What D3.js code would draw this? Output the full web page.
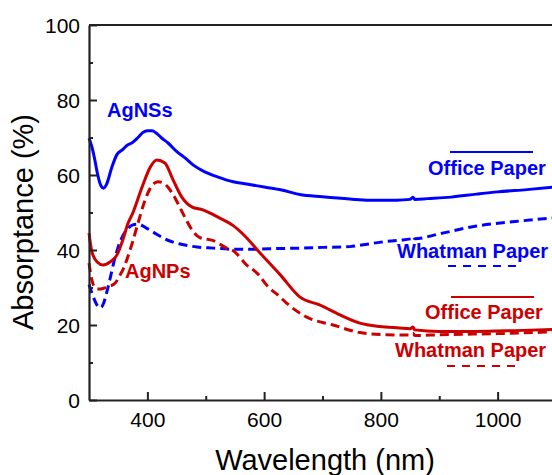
<!DOCTYPE html>
<html>
<head>
<meta charset="utf-8">
<script src="https://cdn.jsdelivr.net/npm/d3@7"></script>
<style>
  html, body { margin: 0; padding: 0; background: #fff; }
  svg { display: block; font-family: "Liberation Sans", Arial, sans-serif; }
</style>
</head>
<body>
<svg id="chart" width="552" height="475"></svg>
<script>
// ---- Data ----
const nsOfficeW = [300,305,310,315,320,325,330,339,348,357,366,374,384,392,400,408,415,425,435,450,465,480,495,520,547,570,600,630,661,700,747,780,827,850,855,858,880,920,964,1000,1050,1100];
const nsOfficeV = [69.8,67.5,64,60,57.3,56.5,57.5,62,65.5,66.7,68,68.6,70,71.3,71.8,71.8,71.2,69.8,68.6,66.3,64.5,62.5,61.1,59.5,58.2,57.6,56.8,56,54.8,54.2,53.6,53.3,53.3,53.5,54.1,53.5,53.7,54.1,54.9,55.5,56.1,56.8];

const nsWhatW = [300,305,310,315,320,325,330,336,343,350,358,366,375,382,390,400,416,435,456,485,513,547,580,627,661,700,747,770,800,830,852,855,858,900,964,1030,1100];
const nsWhatV = [30.8,28.5,26.5,25,24.6,25.8,28.5,32.3,37,40.8,43.8,45.6,46.7,46.9,46.6,45.7,44.2,42.6,41.6,40.8,40.5,40.2,40.2,40.4,40.5,40.7,40.9,41.4,42.1,42.6,43,43.6,43,44.3,46.4,47.6,48.6];

const npOfficeW = [300,305,314,324,336,348,358,367,374,391,405,416,430,444,459,476,495,524,547,564,593,627,661,696,730,764,798,832,850,855,858,900,960,1030,1100];
const npOfficeV = [44.5,39.5,36.8,36,36.8,38.7,42.7,47.2,49.5,56.8,62.1,64,63.2,58.7,54.1,51.5,50.7,48.5,46.5,44.2,39.2,33.5,27.5,25.3,22.7,20.5,19.6,19.2,19,19.5,18.7,18.3,18.3,18.5,18.8];

const npWhatW = [300,305,310,318,325,335,345,352,358,365,373,384,396,405,418,428,435,445,452,464,478,490,513,536,547,570,590,604,627,638,673,718,764,810,850,855,858,900,1000,1100];
const npWhatV = [36.5,32,30,29.6,29.8,30.3,31.2,33,34.7,37.5,41.3,47.2,53.3,56.5,58.2,57.8,56.8,54.5,52.5,48.8,45,43.3,42.5,40.5,39.8,36,33.5,30.7,27.5,25.9,22.1,20,18,17.4,17.3,17.8,17.2,17.4,17.7,18.2];

const xMajorTicks = [400, 600, 800, 1000];
const xMinorTicks = [500, 700, 900];
const yMajorTicks = [0, 20, 40, 60, 80, 100];
const yMinorTicks = [10, 30, 50, 70, 90];

const blue = "#0000ff";
const red = "#cc0000";

// ---- Scales ----
const svg = d3.select("#chart");
const x = d3.scaleLinear().domain([300, 1100]).range([89, 556]);
const y = d3.scaleLinear().domain([0, 100]).range([400, 25]);

const axisColor = "#222";

// ---- Curves ----
const series = [
  { w: nsOfficeW, v: nsOfficeV, color: blue, dash: null },
  { w: nsWhatW, v: nsWhatV, color: blue, dash: "9,5" },
  { w: npOfficeW, v: npOfficeV, color: red, dash: null },
  { w: npWhatW, v: npWhatV, color: red, dash: "9,5" }
];
const line = d3.line().x(d => x(d[0])).y(d => y(d[1])).curve(d3.curveMonotoneX);
series.forEach(s => {
  svg.append("path")
    .datum(s.w.map((w, i) => [w, s.v[i]]))
    .attr("d", line)
    .attr("fill", "none")
    .attr("stroke", s.color)
    .attr("stroke-width", 3)
    .attr("stroke-dasharray", s.dash)
    .attr("stroke-linejoin", "round");
});

// ---- Axes ----
const xAxis = svg.append("g").attr("transform", "translate(0,400)")
  .call(d3.axisBottom(x).tickValues(xMajorTicks).tickSizeInner(-8).tickSizeOuter(0).tickPadding(12).tickFormat(d3.format("d")));
const xMinor = svg.append("g").attr("transform", "translate(0,400)")
  .call(d3.axisBottom(x).tickValues(xMinorTicks).tickSizeInner(-4).tickSizeOuter(0).tickFormat(""));
const yAxis = svg.append("g").attr("transform", "translate(89,0)")
  .call(d3.axisLeft(y).tickValues(yMajorTicks).tickSizeInner(-8).tickSizeOuter(0).tickPadding(9));
const yMinor = svg.append("g").attr("transform", "translate(89,0)")
  .call(d3.axisLeft(y).tickValues(yMinorTicks).tickSizeInner(-4).tickSizeOuter(0).tickFormat(""));

[xAxis, xMinor, yAxis, yMinor].forEach(g => {
  g.select(".domain").attr("stroke", axisColor).attr("stroke-width", 2.2);
  g.selectAll(".tick line").attr("stroke", axisColor).attr("stroke-width", 2);
  g.selectAll("text").attr("font-size", 21).attr("fill", "#000")
    .attr("font-family", '"Liberation Sans", Arial, sans-serif');
});
xMinor.select(".domain").remove();
yMinor.select(".domain").remove();
yAxis.selectAll("text").attr("dy", "0.36em");

// top and right frame lines
svg.append("line")
  .attr("x1", x(300)).attr("x2", x(1100))
  .attr("y1", y(100)).attr("y2", y(100))
  .attr("stroke", axisColor).attr("stroke-width", 2.2);
svg.append("line")
  .attr("x1", x(1100)).attr("x2", x(1100))
  .attr("y1", y(100)).attr("y2", y(0))
  .attr("stroke", axisColor).attr("stroke-width", 2.2);

// ---- Axis titles ----
svg.append("text")
  .attr("x", 325).attr("y", 470)
  .attr("text-anchor", "middle")
  .attr("font-size", 29).attr("fill", "#000")
  .text("Wavelength (nm)");
svg.append("text")
  .attr("transform", "translate(33,222) rotate(-90)")
  .attr("text-anchor", "middle")
  .attr("font-size", 29).attr("fill", "#000")
  .text("Absorptance (%)");

// ---- Annotations / legend ----
function label(txt, xx, yy, color) {
  svg.append("text").attr("x", xx).attr("y", yy)
    .attr("font-size", 20).attr("font-weight", "bold").attr("fill", color)
    .text(txt);
}
label("AgNSs", 107, 117, blue);
label("AgNPs", 125, 278, red);

label("Office Paper", 428, 175, blue);
label("Whatman Paper", 397, 258, blue);
label("Office Paper", 425, 319, red);
label("Whatman Paper", 395, 357, red);

function legLine(x1, x2, yy, color, dash) {
  svg.append("line").attr("x1", x1).attr("x2", x2).attr("y1", yy).attr("y2", yy)
    .attr("stroke", color).attr("stroke-width", 2.2).attr("stroke-dasharray", dash);
}
legLine(450, 533, 152, blue, null);
legLine(448, 523, 266, blue, "8,7");
legLine(451, 534, 297, red, null);
legLine(447, 520, 366, red, "8,7");
</script>
</body>
</html>
